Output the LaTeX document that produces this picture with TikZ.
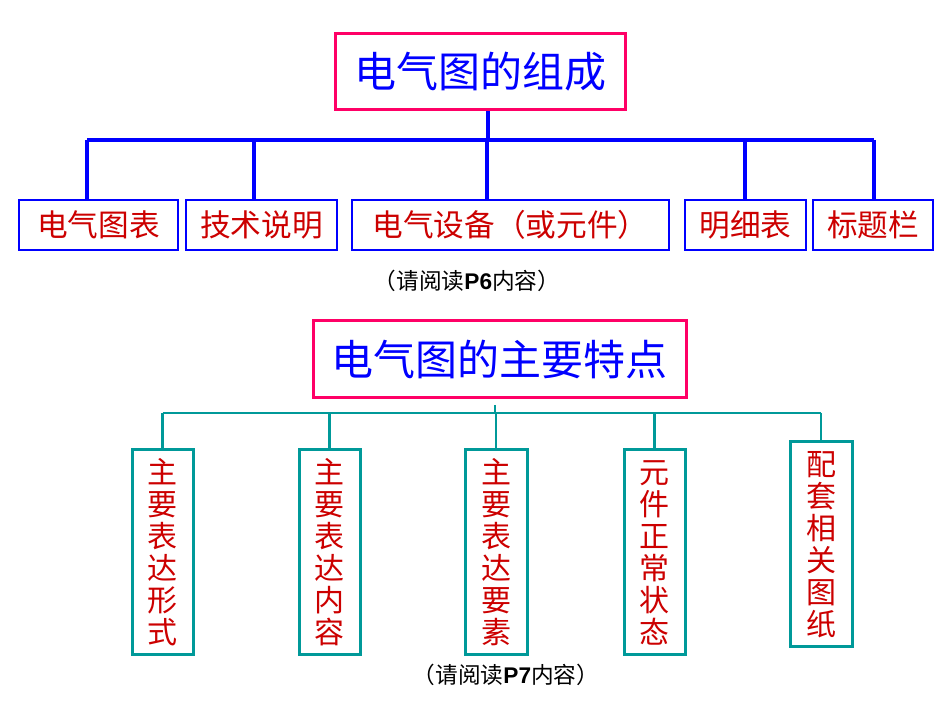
\documentclass[tikz,border=0pt]{standalone}
\usepackage{fontspec}
\setmainfont{Liberation Sans}
\newfontfamily\cjk{Noto Sans CJK SC}
\newfontfamily\latin{Liberation Sans}
\definecolor{tborder}{RGB}{255,0,102}
\definecolor{bblue}{RGB}{0,0,255}
\definecolor{tred}{RGB}{204,0,0}
\definecolor{teal2}{RGB}{0,153,153}
\begin{document}
\begin{tikzpicture}[x=0.75pt,y=-0.75pt,
  titlebox/.style={draw=tborder,line width=2.25pt,fill=white,inner sep=0pt,
    text=bblue,font=\cjk\fontsize{31.5}{34}\selectfont},
  rowbox/.style={draw=bblue,line width=1.5pt,inner sep=0pt,minimum height=37.5pt,
    text=tred,font=\cjk\fontsize{23}{26}\selectfont},
  colbox/.style={draw=teal2,line width=2.25pt,inner sep=0pt,minimum width=45.75pt,
    minimum height=153.75pt,align=center,text=tred,font=\cjk\fontsize{22.5}{24}\selectfont},
  blueline/.style={draw=bblue,line width=2.6pt},
  tealline/.style={draw=teal2,line width=2.1pt},
  caption/.style={text=black,font=\cjk\fontsize{17}{19}\selectfont,inner sep=0pt}]
\fill[white] (0,0) rectangle (951,712);
\useasboundingbox (0,0) rectangle (951,712);

% ---- Part 1
\node[titlebox,minimum width=217.5pt,minimum height=57pt] (t1) at (480,72) {电气图的组成};
\node[rowbox,minimum width=119.25pt] (b1) at (98.5,225) {电气图表};
\node[rowbox,minimum width=113.25pt] (b2) at (261.5,225) {技术说明};
\node[rowbox,minimum width=237.75pt] (b3) at (510.5,225) {电气设备（或元件）};
\node[rowbox,minimum width=90.75pt] (b4) at (745.5,225) {明细表};
\node[rowbox,minimum width=90pt] (b5) at (873,225) {标题栏};

\coordinate (h1) at (488,140);
\coordinate (j1) at (87,140);
\coordinate (j2) at (254,140);
\coordinate (j3) at (487,140);
\coordinate (j4) at (745,140);
\coordinate (j5) at (874,140);
\draw[blueline] (t1.south -| h1) -- (h1);
\draw[blueline] (j1) -- (j5);
\draw[blueline] (j1) -- (b1.north -| j1);
\draw[blueline] (j2) -- (b2.north -| j2);
\draw[blueline] (j3) -- (b3.north -| j3);
\draw[blueline] (j4) -- (b4.north -| j4);
\draw[blueline] (j5) -- (b5.north -| j5);

\node[caption] (c1) at (467,281) {（请阅读{\latin\bfseries P6}内容）};

% ---- Part 2
\node[titlebox,minimum width=279.75pt,minimum height=57.75pt] (t2) at (499.5,359.5) {电气图的主要特点};
\node[colbox] (d1) at (162.5,552.5) {主\\要\\表\\达\\形\\式};
\node[colbox] (d2) at (329.5,552.5) {主\\要\\表\\达\\内\\容};
\node[colbox,minimum width=46.5pt] (d3) at (496,552.5) {主\\要\\表\\达\\要\\素};
\node[colbox] (d4) at (654.5,552.5) {元\\件\\正\\常\\状\\态};
\node[colbox,minimum width=46.5pt] (d5) at (821,544.5) {配\\套\\相\\关\\图\\纸};

\coordinate (s0) at (495,405);
\coordinate (k1) at (162.5,413);
\coordinate (k5) at (821,413);
\draw[tealline] (s0) -- (s0 |- k1);
\draw[tealline] (k1) -- (k5);
\foreach \n in {d1,d2,d3,d4,d5}
  \draw[tealline] (\n.north |- k1) -- (\n.north);

\node[caption] (c2) at (506,675) {（请阅读{\latin\bfseries P7}内容）};
\end{tikzpicture}
\end{document}
